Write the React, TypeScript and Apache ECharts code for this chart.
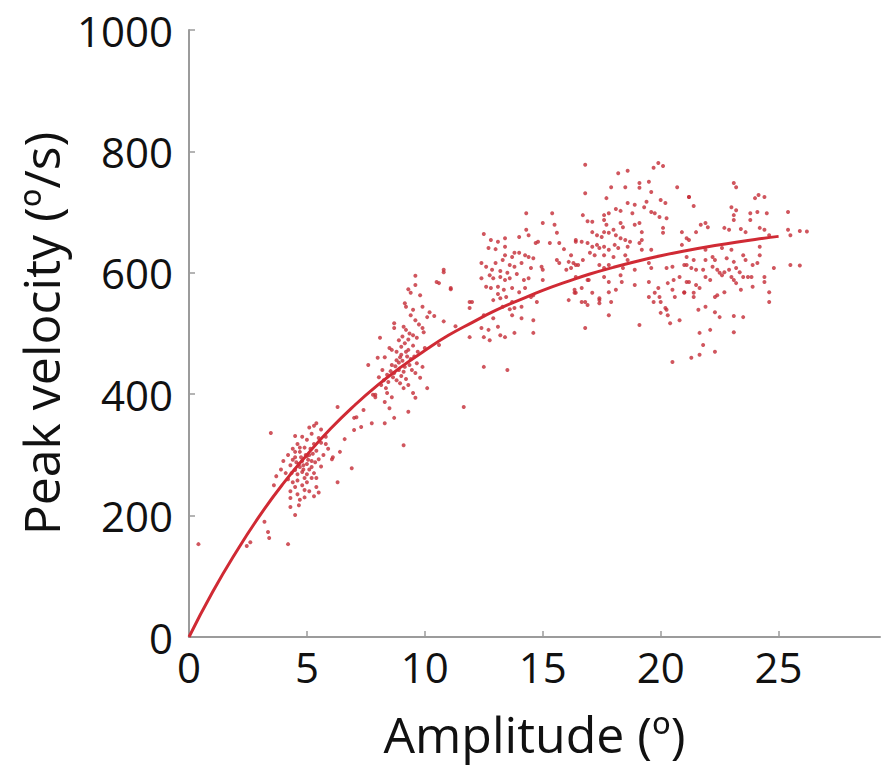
import React, { useEffect, useRef } from "react";
import * as echarts from "echarts";

// Fitted main-sequence curve
const fitAmplitudes = [0,1,2,3,4,5,6,7,8,9,10,11,12,13,14,15,16,17,18,19,20,21,22,23,24,25];
const fitVelocities = [0,74,140,200,253,300,343,381,415,445,472,497,518,538,555,571,585,598,609,619,628,636,643,649,655,660];

const xTicks = [0, 5, 10, 15, 20, 25];
const yTicks = [0, 200, 400, 600, 800, 1000];

// Saccades, [amplitude (deg), peak velocity (deg/s)]
const cluster5 = [
  [4.2,300],[4.4,310],[4.5,296],[4.6,318],[4.7,305],[4.8,290],[4.9,312],[5.0,325],[5.1,300],[5.2,335],
  [5.3,318],[5.4,307],[5.5,328],[5.6,342],[4.3,283],[4.5,275],[4.6,268],[4.7,280],[4.8,272],[4.9,262],
  [5.0,285],[5.1,276],[5.2,290],[5.3,270],[5.4,262],[5.5,293],[5.6,281],[5.7,300],[5.8,318],[4.1,270],
  [4.2,260],[4.4,255],[4.5,247],[4.6,258],[4.8,250],[4.9,242],[5.0,255],[5.1,240],[5.2,262],[5.4,247],
  [5.5,238],[4.0,290],[3.9,276],[4.3,240],[4.6,235],[4.7,226],[4.9,230],[5.3,232],[5.0,298],[4.8,330],
  [5.1,345],[5.4,352],[5.6,320],[5.9,310],[6.1,296],[3.7,265],[3.6,250],[4.3,229],[4.3,214],[4.66,217],
  [4.5,201],[4.5,331],[5.3,348],[5.8,330],[4.55,288],[4.75,296],[4.85,283],[4.95,300],[5.05,292],[4.65,285],
  [5.15,310],[5.25,302],[4.4,292],[4.5,305],[4.7,312],[5.0,268],[4.85,276],[5.2,280],[4.35,270],[5.35,288]
];
const cluster9 = [
  [9.6,595],[10.8,601],[9.6,580],[10.6,583],[11.1,573],[9.3,573],[9.4,567],[9.8,563],[9.15,550],[9.2,544],
  [9.9,544],[9.5,539],[9.4,530],[10.2,535],[10.1,527],[10.4,529],[9.6,522],[8.7,517],[8.7,509],[9.1,511],
  [9.2,506],[9.9,509],[9.95,502],[9.5,497],[9.66,493],[8.1,493],[8.9,489],[9.15,484],[8.5,476],[8.6,473],
  [9.3,473],[10.0,476],[10.6,481],[11.9,494],[8.0,460],[8.3,461],[8.8,456],[8.95,461],[7.6,448],[9.66,451],
  [9.9,445],[9.15,445],[9.1,437],[8.2,440],[8.4,432],[8.05,428],[8.26,423],[8.7,435],[8.8,423],[9.6,435],
  [9.8,427],[9.3,415],[9.1,410],[10.1,410],[7.9,395],[7.8,399],[8.4,402],[8.6,395],[9.5,402],[9.6,394],
  [8.3,387],[8.5,377],[9.3,371],[8.7,361],[7.1,362],[8.3,352],[9.1,316],[11.65,379],[11.9,552],[10.5,585],
  [11.1,575],[10.8,605],[9.0,465],[9.2,470],[8.9,452],[9.4,458],[9.0,478],[8.6,448],[9.3,490],[9.7,470],
  [8.8,470],[9.5,480],[8.9,440],[9.05,455],[9.25,462],[9.35,448],[8.75,446],[8.55,438],[8.45,420],[8.65,428],
  [9.45,440],[9.55,462],[9.05,495],[9.35,500],[9.75,515],[8.35,410],[8.15,415],[9.0,430],[9.2,425],[8.95,418]
];
const cluster13 = [
  [14.3,698],[15.4,698],[15.0,682],[15.5,679],[12.5,664],[12.8,654],[13.1,651],[13.4,657],[14.3,671],[14.4,662],
  [14.0,659],[14.7,649],[14.8,651],[15.3,649],[15.7,649],[12.7,641],[13.0,639],[13.4,643],[13.8,633],[14.0,633],
  [14.25,629],[13.4,629],[13.7,626],[14.4,626],[14.6,624],[15.9,639],[16.2,629],[15.6,621],[15.7,616],[12.4,616],
  [12.6,610],[13.0,616],[13.3,621],[13.6,613],[13.8,610],[14.1,616],[14.5,608],[14.95,610],[15.0,605],[16.0,605],
  [16.2,608],[16.4,613],[12.4,591],[12.75,596],[12.9,591],[13.2,593],[13.4,588],[13.6,591],[14.2,588],[14.4,591],
  [15.0,588],[12.6,577],[12.8,575],[13.1,577],[13.35,572],[13.7,575],[14.0,568],[14.25,575],[14.6,563],[16.1,555],
  [12.0,552],[11.9,542],[12.9,555],[13.2,558],[13.3,544],[13.7,552],[13.8,542],[14.1,544],[14.75,552],[14.5,560],
  [12.5,530],[12.9,525],[13.7,530],[14.1,525],[14.6,522],[12.4,509],[12.7,506],[13.1,511],[13.2,497],[13.4,494],
  [13.8,501],[12.5,494],[12.75,489],[14.6,501],[12.5,445],[13.5,440],[16.4,567],[15.6,666],[16.1,618],[16.4,651],
  [16.35,567],[16.65,552],[16.95,588],[13.2,603],[13.5,600],[13.9,598],[13.1,565],[13.45,560],[13.6,540],[12.85,605]
];
const cluster18 = [
  [16.8,778],[19.9,781],[20.1,776],[19.7,773],[18.2,764],[18.6,768],[19.5,750],[19.1,748],[19.1,740],[17.9,741],
  [18.5,741],[20.7,741],[16.8,731],[19.6,733],[17.7,723],[18.6,715],[18.9,712],[19.4,717],[19.3,708],[20.0,720],
  [20.2,715],[21.2,725],[18.1,705],[18.3,702],[16.7,695],[17.6,695],[17.8,698],[18.8,698],[19.6,700],[19.75,698],
  [19.95,692],[20.25,690],[16.9,685],[17.1,684],[17.6,687],[17.7,679],[18.3,682],[18.4,675],[19.1,682],[18.9,679],
  [20.1,674],[20.1,666],[20.9,667],[19.2,667],[17.1,667],[17.3,662],[17.5,659],[17.6,667],[17.8,666],[18.0,671],
  [18.1,662],[18.3,657],[18.5,654],[16.4,654],[16.65,651],[16.9,649],[17.1,643],[17.3,646],[17.4,641],[17.6,643],
  [17.8,638],[18.05,646],[18.2,641],[18.6,643],[19.2,654],[19.1,649],[18.7,651],[17.0,633],[17.2,629],[17.6,629],
  [18.0,626],[18.6,621],[18.5,629],[19.2,638],[19.6,638],[20.9,646],[21.2,654],[16.3,616],[16.5,613],[16.7,621],
  [17.4,613],[17.6,608],[17.8,613],[18.4,608],[18.9,605],[19.6,608],[19.5,616],[20.25,608],[20.5,610],[21.0,613],
  [16.4,593],[16.9,588],[17.6,593],[17.8,585],[18.3,596],[18.35,585],[18.9,580],[19.5,585],[20.3,583],[20.55,588],
  [20.8,593],[21.1,585],[16.35,572],[16.65,575],[17.1,567],[17.8,568],[18.1,572],[19.9,575],[19.75,567],[20.5,572],
  [20.6,560],[21.0,568],[16.8,552],[16.9,547],[17.4,555],[17.4,550],[17.9,552],[19.5,560],[19.7,552],[19.95,560],
  [20.0,552],[17.8,530],[20.0,534],[20.25,539],[20.3,530],[19.1,514],[20.4,517],[20.8,522],[16.8,509],[20.2,542],
  [17.4,558],[20.5,453]
];
const cluster23 = [
  [23.1,748],[23.2,741],[24.15,728],[24.4,725],[24.0,723],[21.2,725],[21.4,710],[23.0,708],[23.2,703],[23.1,695],
  [23.8,698],[24.1,700],[24.5,698],[25.4,700],[23.1,687],[23.8,687],[21.9,682],[22.0,675],[21.7,679],[22.7,674],
  [22.9,671],[23.4,672],[23.6,667],[21.5,667],[24.2,674],[24.4,671],[25.4,671],[25.9,669],[25.5,662],[21.1,657],
  [24.6,662],[21.9,638],[22.6,641],[23.0,638],[24.2,643],[24.2,629],[21.1,626],[21.4,621],[21.9,621],[22.2,626],
  [22.3,621],[22.8,624],[23.1,618],[23.5,629],[23.6,621],[23.9,613],[24.1,616],[21.1,613],[21.3,608],[21.5,605],
  [21.8,605],[22.2,610],[22.4,605],[22.7,601],[22.9,605],[23.2,608],[23.35,601],[24.8,608],[25.5,613],[21.2,585],
  [21.5,580],[21.65,575],[21.9,593],[22.1,588],[22.5,600],[22.6,596],[23.0,593],[23.1,588],[23.2,583],[23.5,593],
  [23.7,593],[23.85,593],[24.4,593],[24.4,585],[23.9,577],[21.0,567],[21.4,560],[21.4,567],[22.3,560],[22.4,563],
  [22.7,568],[23.4,572],[24.6,568],[21.6,539],[21.9,544],[22.3,535],[22.5,527],[23.1,529],[23.5,527],[24.6,552],
  [21.65,501],[22.1,506],[23.1,502],[21.8,481],[21.3,460],[21.65,465],[22.3,470],[25.9,612],[26.2,668]
];
const sparse = [
  [0.4,153],[2.45,150],[2.6,156],[3.2,190],[3.35,173],[3.4,163],[4.2,153],[3.47,336],[6.6,326],[7.0,341],
  [6.4,305],[6.06,293],[6.9,278],[6.3,255],[6.3,379],[7.0,361],[7.4,374],[7.3,346],[7.75,352],[7.9,399],
  [10.8,520],[11.3,512]
];

export default function App() {
  const ref = useRef<HTMLDivElement>(null);
  useEffect(() => {
    if (!ref.current) return;
    const chart = echarts.init(ref.current, null, { renderer: "svg" });
    const font = "'Open Sans', 'Noto Sans', sans-serif";
    const axisColor = "#9b9b9b";
    const dotStyle = { color: "#c42c36" };
    const scatterSeries = [cluster5, cluster9, cluster13, cluster18, cluster23, sparse].map((d) => ({
      type: "scatter",
      data: d,
      symbol: "circle",
      symbolSize: 4,
      itemStyle: dotStyle,
      z: 2,
    }));
    chart.setOption({
      animation: false,
      backgroundColor: "#ffffff",
      grid: { left: 189, top: 30, right: 2, bottom: 132, containLabel: false },
      xAxis: {
        type: "value",
        min: 0,
        max: 29.3,
        interval: 5,
        name: "Amplitude (º)",
        nameLocation: "middle",
        nameGap: 72,
        nameTextStyle: { fontFamily: font, fontSize: 50, color: "#111" },
        axisLine: { lineStyle: { color: axisColor, width: 2 } },
        axisTick: { show: true, inside: true, length: 6, lineStyle: { color: axisColor, width: 1.5 }, customValues: xTicks },
        axisLabel: { fontFamily: font, fontSize: 42, color: "#111", margin: 8, customValues: xTicks, formatter: (v: number) => String(v) },
        splitLine: { show: false },
      },
      yAxis: {
        type: "value",
        min: 0,
        max: 1000,
        interval: 200,
        name: "Peak velocity (º/s)",
        nameLocation: "middle",
        nameGap: 117,
        nameRotate: 90,
        nameTextStyle: { fontFamily: font, fontSize: 50, color: "#111" },
        axisLine: { show: true, lineStyle: { color: axisColor, width: 2 } },
        axisTick: { show: true, inside: true, length: 6, lineStyle: { color: axisColor, width: 1.5 }, customValues: yTicks },
        axisLabel: { fontFamily: font, fontSize: 42, color: "#111", margin: 16, customValues: yTicks, formatter: (v: number) => String(v) },
        splitLine: { show: false },
      },
      series: [
        ...scatterSeries,
        {
          type: "line",
          data: fitAmplitudes.map((a, i) => [a, fitVelocities[i]]),
          smooth: true,
          showSymbol: false,
          lineStyle: { color: "#d02a34", width: 3 },
          z: 3,
        },
      ],
    });
    return () => chart.dispose();
  }, []);
  return (
    <div
      ref={ref}
      style={{ position: "fixed", left: 0, top: 0, width: 882, height: 769, background: "#fff" }}
    />
  );
}
